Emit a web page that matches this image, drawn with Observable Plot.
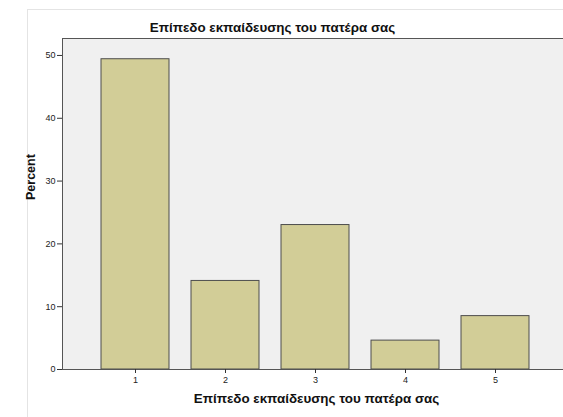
<!DOCTYPE html>
<html><head><meta charset="utf-8">
<script src="https://cdn.jsdelivr.net/npm/d3@7"></script>
<script src="https://cdn.jsdelivr.net/npm/@observablehq/plot@0.6"></script>
<style>
body{margin:0;background:#fff;font-family:"Liberation Sans",Arial,sans-serif;}
#wrap{position:relative;width:563px;height:417px;overflow:hidden}
#border{position:absolute;left:27px;top:9px;width:600px;height:600px;border:1px solid #e4e4e4}
#chart{position:absolute;left:0;top:0}
#chart svg{max-width:none !important}
</style></head><body><div id="wrap"><div id="border"></div><div id="chart"></div></div>
<script>
const categories = ["1", "2", "3", "4", "5"];
const percents = [49.4, 14.1, 23.0, 4.6, 8.5];
const yTicks = [0, 10, 20, 30, 40, 50];
const title = "Επίπεδο εκπαίδευσης του πατέρα σας";
const yLabel = "Percent";
const data = categories.map((c, i) => ({cat: c, pct: percents[i]}));
const font = "Liberation Sans, Arial, sans-serif";
const plot = Plot.plot({
  width: 566, height: 417, marginTop: 38, marginBottom: 48, marginLeft: 62, marginRight: 0,
  style: {background: "transparent", fontFamily: font, color: "#222", overflow: "visible", maxWidth: "none"},
  x: {domain: categories, padding: 0.25, insetLeft: 14, insetRight: 13},
  y: {domain: [0, 52.7]},
  marks: [
    Plot.frame({fill: "#f0f0f0", stroke: null}),
    Plot.barY(data, {x: "cat", y: "pct", fill: "#d2cd97", stroke: "#4d4d4d", strokeWidth: 1}),
    Plot.frame({stroke: "#555", strokeWidth: 1}),
    Plot.axisY({ticks: yTicks, tickSize: 5, tickPadding: 2, fontSize: 9, label: null, stroke: "#333"}),
    Plot.axisX({tickSize: 4, tickPadding: 3, fontSize: 9, label: null, stroke: "#333"}),
    Plot.text([title], {frameAnchor: "top", lineAnchor: "middle", dx: -42, dy: -11, text: d => d, fontSize: 13.4, fontWeight: "bold", fill: "#111"}),
    Plot.text([title], {frameAnchor: "bottom", lineAnchor: "middle", dx: 2, dy: 29, text: d => d, fontSize: 13.4, fontWeight: "bold", fill: "#111"}),
    Plot.text([yLabel], {frameAnchor: "left", lineAnchor: "middle", dx: -32, dy: -4, rotate: -90, text: d => d, fontSize: 12.5, fontWeight: "bold", fill: "#111"})
  ]
});
document.getElementById("chart").appendChild(plot);
</script></body></html>
